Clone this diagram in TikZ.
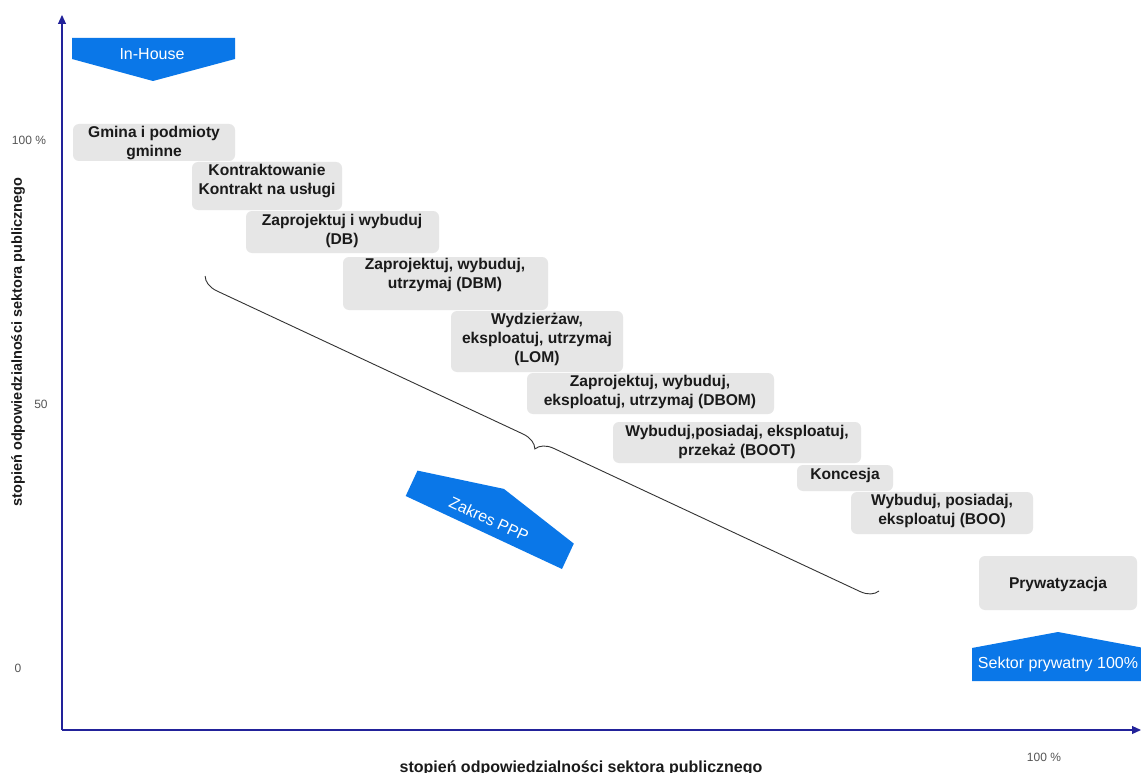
\documentclass[tikz,border=0pt]{standalone}
\usepackage{fontspec}
\setmainfont{Liberation Sans}
\usetikzlibrary{arrows.meta,decorations.pathreplacing}
\definecolor{boxgray}{HTML}{E6E6E6}
\definecolor{boxtext}{HTML}{1A1A1A}
\definecolor{brandblue}{HTML}{0A77E8}
\definecolor{axisblue}{HTML}{22229A}
\definecolor{ticktext}{HTML}{555555}
\definecolor{bracegray}{HTML}{333333}

\begin{document}
\begin{tikzpicture}[x=1pt,y=-1pt,
  stagebox/.style={fill=boxgray, rounded corners=6pt},
  stagetext/.style={text=boxtext, align=center, inner sep=0pt,
    font=\bfseries\fontsize{15.6}{19}\selectfont},
  bluearrow/.style={fill=brandblue},
  bluetext/.style={text=white, inner sep=0pt, font=\fontsize{16}{19}\selectfont},
  ticklabel/.style={text=ticktext, inner sep=0pt, font=\fontsize{12}{14}\selectfont},
  axistitle/.style={text=boxtext, inner sep=0pt, font=\bfseries\fontsize{14.5}{17}\selectfont},
  axisline/.style={draw=axisblue, line width=1.1pt, -{Triangle[length=9pt,width=8pt]}},
  bracestyle/.style={draw=bracegray, line width=0.9pt, decorate,
    decoration={brace, amplitude=17pt}}
]
\useasboundingbox (0,0) rectangle (1141,773);
\fill[white] (0,0) rectangle (1141,773);

% axes
\coordinate (origin) at (62,730);
\coordinate (ytop) at (62,15);
\coordinate (xend) at (1141,730);
\draw[axisline] (origin) -- (ytop);
\draw[axisline] (origin) -- (xend);

% tick labels
\node[ticklabel] (t100) at (29,140) {100 \%};
\node[ticklabel] (t50) at (41,404) {50};
\node[ticklabel] (t0) at (18,668) {0};
\node[ticklabel] (x100) at (1044,757) {100 \%};

% axis titles
\node[axistitle, rotate=90] (ytitle) at (18,342) {stopień odpowiedzialności sektora publicznego};
\node[axistitle, anchor=base, font=\bfseries\fontsize{16}{18}\selectfont] (xtitle) at (581,772) {stopień odpowiedzialności sektora publicznego};

% In-House marker
\path[bluearrow] (72,38) -- (235,38) -- (235,59) -- (153,81) -- (72,59) -- cycle;
\node[bluetext] (inhouse) at (152,54) {In-House};

% private sector marker
\path[bluearrow] (972,681) -- (972,648) -- (1058,632) -- (1144,648) -- (1144,681) -- cycle;
\node[bluetext] (private) at (1058,664) {Sektor prywatny 100\%};

% PPP range marker
\path[bluearrow] (405.7,496) -- (417.5,470.6) -- (503.9,488.9) -- (573.8,543.6) -- (562.0,569.0) -- cycle;
\node[bluetext, rotate=-25] (ppp) at (489,519) {Zakres PPP};

% stages
\path[stagebox] (73,124) rectangle (235,161);
\node[stagetext] (s1) at (154,143.5) {Gmina i podmioty\\gminne};

\path[stagebox] (192,162) rectangle (342,210);
\node[stagetext] (s2) at (267,181) {Kontraktowanie\\Kontrakt na usługi};

\path[stagebox] (246,211) rectangle (439,253);
\node[stagetext] (s3) at (342,230.5) {Zaprojektuj i wybuduj\\(DB)};

\path[stagebox] (343,257) rectangle (548,310);
\node[stagetext] (s4) at (445,275) {Zaprojektuj, wybuduj,\\utrzymaj (DBM)};

\path[stagebox] (451,311) rectangle (623,372);
\node[stagetext] (s5) at (537,339) {Wydzierżaw,\\eksploatuj, utrzymaj\\(LOM)};

\path[stagebox] (527,373) rectangle (774,414);
\node[stagetext] (s6) at (650,392) {Zaprojektuj, wybuduj,\\eksploatuj, utrzymaj (DBOM)};

\path[stagebox] (613,422) rectangle (861,463);
\node[stagetext] (s7) at (737,442) {Wybuduj,posiadaj, eksploatuj,\\przekaż (BOOT)};

\path[stagebox] (797,465) rectangle (893,491);
\node[stagetext] (s8) at (845,475.5) {Koncesja};

\path[stagebox] (851,492) rectangle (1033,534);
\node[stagetext] (s9) at (942,510.5) {Wybuduj, posiadaj,\\eksploatuj (BOO)};

\path[stagebox] (979,556) rectangle (1137,610);
\node[stagetext] (s10) at (1058,584) {Prywatyzacja};

% PPP brace
\coordinate (braceA) at (879,591);
\coordinate (braceB) at (205,276);
\draw[bracestyle] (braceA) -- (braceB);

\end{tikzpicture}
\end{document}
